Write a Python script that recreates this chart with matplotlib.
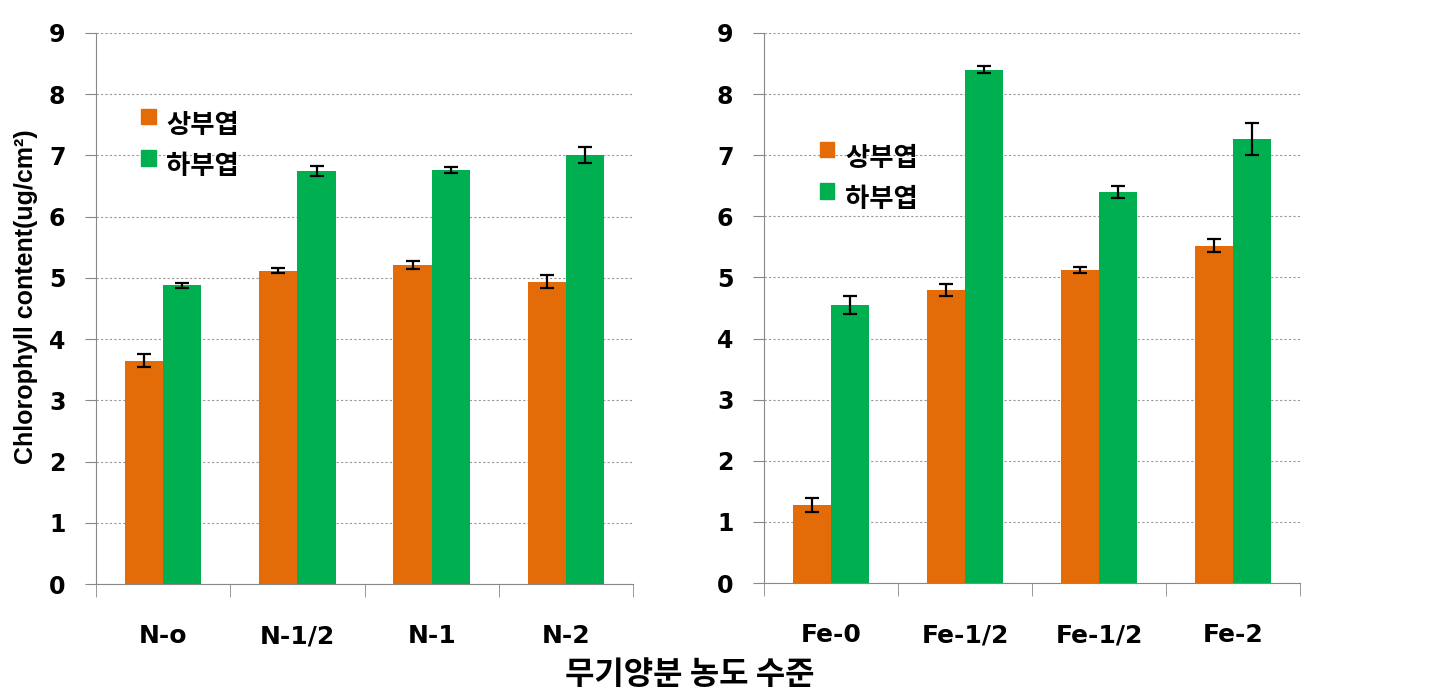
import matplotlib.pyplot as plt
import numpy as np
from matplotlib.patches import Patch

plt.rcParams['font.family'] = ['DejaVu Sans', 'Noto Sans CJK KR']

series = ["상부엽", "하부엽"]
colors = ["#E36C09", "#00B050"]

n_labels = ["N-o", "N-1/2", "N-1", "N-2"]
n_upper = [3.65, 5.12, 5.21, 4.94]
n_upper_err = [0.10, 0.04, 0.06, 0.11]
n_lower = [4.88, 6.75, 6.76, 7.01]
n_lower_err = [0.04, 0.08, 0.05, 0.13]

fe_labels = ["Fe-0", "Fe-1/2", "Fe-1/2", "Fe-2"]
fe_upper = [1.28, 4.80, 5.12, 5.52]
fe_upper_err = [0.11, 0.10, 0.05, 0.11]
fe_lower = [4.55, 8.40, 6.40, 7.27]
fe_lower_err = [0.15, 0.06, 0.10, 0.26]

fig = plt.figure(figsize=(14.53, 6.97), dpi=100)
ax1 = fig.add_axes([0.0661, 0.1621, 0.3696, 0.7906])
ax2 = fig.add_axes([0.5258, 0.1635, 0.3689, 0.7892])

w = 0.285
err_kw = dict(ecolor="black", elinewidth=1.6, capsize=5, capthick=1.6)


def draw(ax, labels, up, up_err, low, low_err, leg_pos):
    x = np.arange(len(labels))
    ax.bar(x - w / 2, up, w, color=colors[0], yerr=up_err, error_kw=err_kw, zorder=3)
    ax.bar(x + w / 2, low, w, color=colors[1], yerr=low_err, error_kw=err_kw, zorder=3)
    ax.set_xlim(-0.5, len(labels) - 0.5)
    ax.set_ylim(0, 9)
    ax.set_yticks(range(10))
    ax.set_xticks(x)
    ax.set_xticklabels(labels, fontsize=18, fontweight="bold")
    ax.set_xticks(np.arange(len(labels) + 1) - 0.5, minor=True)
    ax.tick_params(axis="x", which="major", length=0, pad=29)
    ax.tick_params(axis="x", which="minor", length=9, color="#888888", direction="out")
    ax.tick_params(axis="y", length=8, color="#888888", labelsize=17, pad=14)
    for t in ax.get_yticklabels():
        t.set_fontweight("bold")
    ax.grid(axis="y", linestyle=(0, (2, 2)), color="#999999", linewidth=0.8, zorder=0)
    for s in ["top", "right"]:
        ax.spines[s].set_visible(False)
    for s in ["left", "bottom"]:
        ax.spines[s].set_color("#888888")
    handles = [Patch(color=c) for c in colors]
    leg = ax.legend(handles, series, loc="upper left", bbox_to_anchor=leg_pos,
                    frameon=False, handlelength=0.55, handleheight=0.55,
                    handletextpad=0.4, labelspacing=0.55,
                    prop={"family": "Noto Sans CJK KR", "weight": "bold", "size": 19})
    for h in leg.legend_handles:
        h.set_y(h.get_y() + 5)


draw(ax1, n_labels, n_upper, n_upper_err, n_lower, n_lower_err, (0.04, 0.9))
draw(ax2, fe_labels, fe_upper, fe_upper_err, fe_lower, fe_lower_err, (0.06, 0.84))

fig.text(0.018, 0.574, "Chlorophyll content(ug/cm²)", rotation=90, ha="center", va="center",
         fontsize=18, fontweight="bold", family=["Liberation Sans", "DejaVu Sans"])
fig.text(0.475, 0.032, "무기양분 농도 수준", ha="center", va="center",
         fontsize=23, fontweight="bold", family=["Noto Sans CJK KR"])

fig.savefig("out.png", dpi=100)
